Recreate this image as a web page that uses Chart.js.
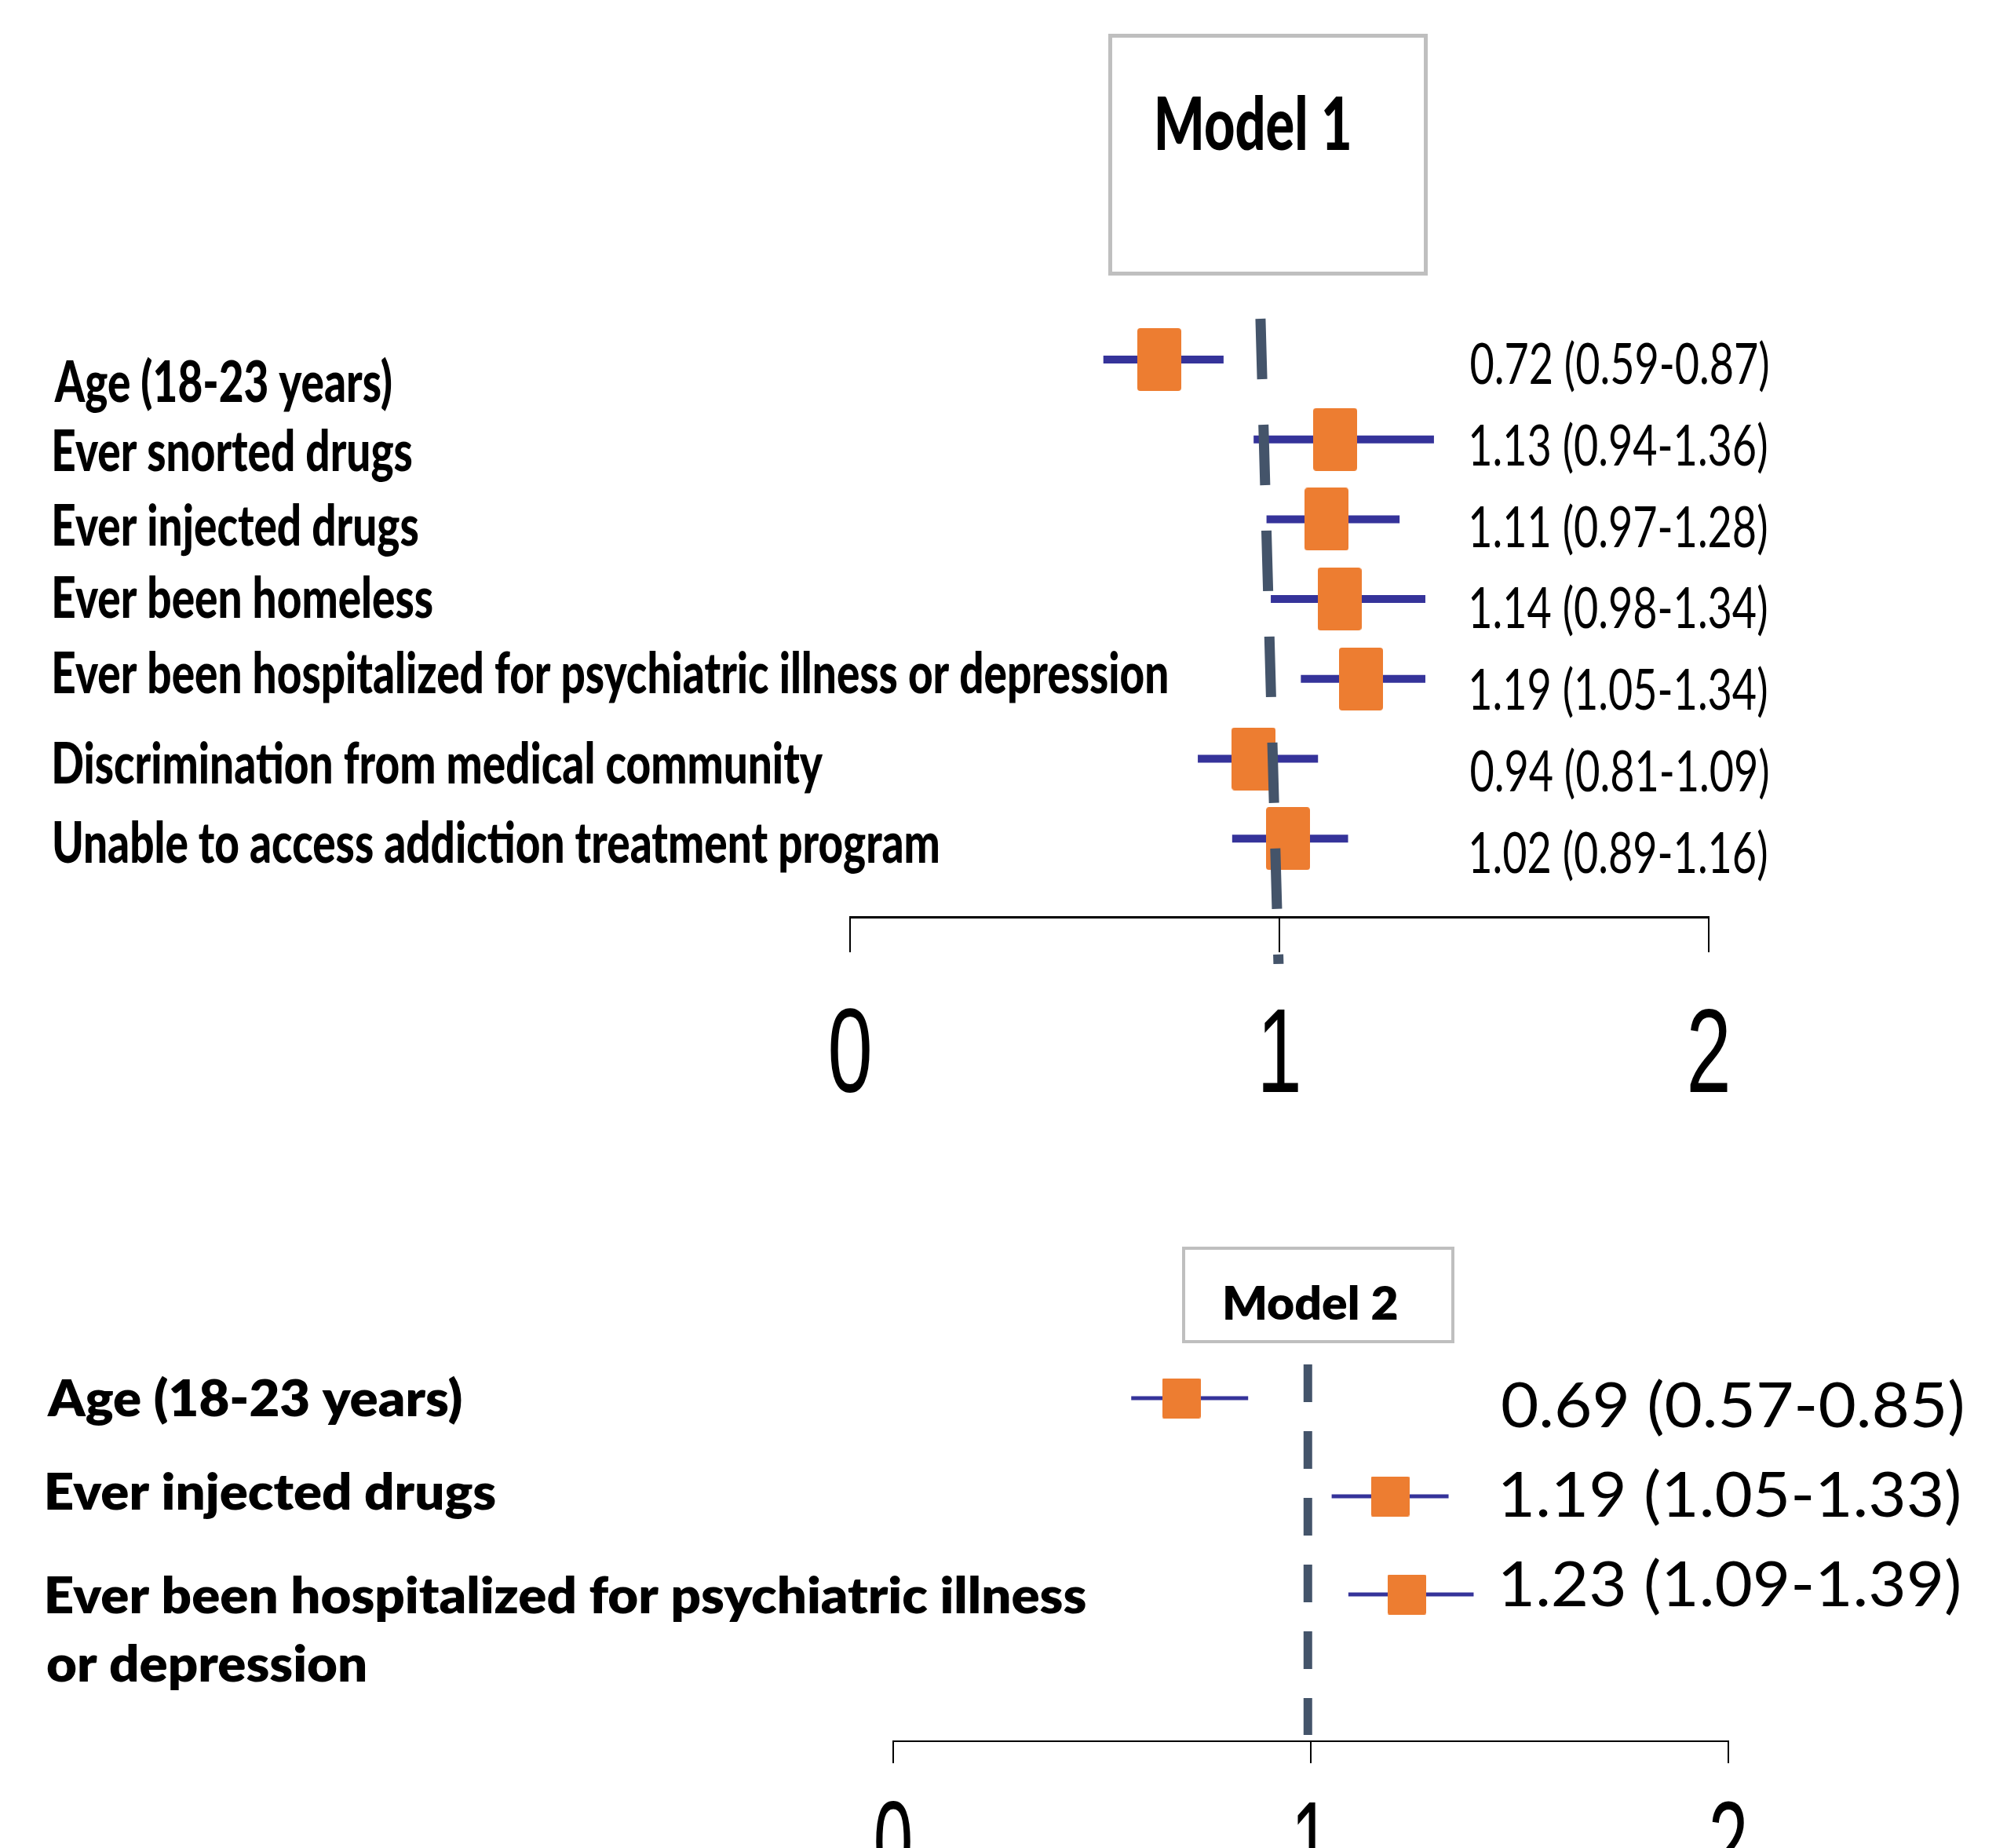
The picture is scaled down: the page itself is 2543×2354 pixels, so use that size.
<!DOCTYPE html>
<html>
<head>
<meta charset="utf-8">
<script src="https://cdn.jsdelivr.net/npm/chart.js@4.4.0/dist/chart.umd.min.js"></script>
<style>
  html, body { margin: 0; padding: 0; background: #ffffff; width: 2543px; height: 2354px; overflow: hidden; }
  canvas { position: absolute; left: 0; display: block; }
  #model1 { top: 0; }
  #model2 { top: 1450px; }
</style>
</head>
<body>
<canvas id="model1" width="2543" height="1450" style="width:2543px;height:1450px"></canvas>
<canvas id="model2" width="2543" height="904" style="width:2543px;height:904px"></canvas>
<script>
// ---------------- DATA ----------------
const model1Title = 'Model 1';
const model1Labels = [
  'Age (18-23 years)',
  'Ever snorted drugs',
  'Ever injected drugs',
  'Ever been homeless',
  'Ever been hospitalized for psychiatric illness or depression',
  'Discrimination from medical community',
  'Unable to access addiction treatment program'
];
const model1OR    = [0.72, 1.13, 1.11, 1.14, 1.19, 0.94, 1.02];
const model1Lower = [0.59, 0.94, 0.97, 0.98, 1.05, 0.81, 0.89];
const model1Upper = [0.87, 1.36, 1.28, 1.34, 1.34, 1.09, 1.16];

const model2Title = 'Model 2';
const model2Labels = [
  'Age (18-23 years)',
  'Ever injected drugs',
  ['Ever been hospitalized for psychiatric illness', 'or depression']
];
const model2OR    = [0.69, 1.19, 1.23];
const model2Lower = [0.57, 1.05, 1.09];
const model2Upper = [0.85, 1.33, 1.39];

const xTickValues = [0, 1, 2];
// reference (null) line at OR = 1, as drawn in the figure (model 1 is slightly tilted)
const model1RefX = [0.956, 0.998];
const model2RefX = [0.993, 0.993];

// ---------------- STYLE ----------------
const CI_COLOR = '#35339A';
const MARK_COLOR = '#ED7D31';
const REF_COLOR = '#44546A';
const BOX_COLOR = '#BFBFBF';
// small per-row vertical nudges (px) of the label text, as typeset in the figure
const model1LabelNudge = [1, -6.5, -7, -10.5, -10, 10, 15];
const model2LabelNudge = [0, -6.5, 0];

function fmt(v) { return v.toFixed(2); }
function valueText(or, lo, hi) { return fmt(or) + ' (' + fmt(lo) + '-' + fmt(hi) + ')'; }

function rectMarker(w, h, r) {
  const c = document.createElement('canvas');
  c.width = w; c.height = h;
  const g = c.getContext('2d');
  g.fillStyle = MARK_COLOR;
  g.beginPath();
  g.moveTo(r, 0); g.lineTo(w - r, 0); g.quadraticCurveTo(w, 0, w, r);
  g.lineTo(w, h - r); g.quadraticCurveTo(w, h, w - r, h);
  g.lineTo(r, h); g.quadraticCurveTo(0, h, 0, h - r);
  g.lineTo(0, r); g.quadraticCurveTo(0, 0, r, 0);
  g.closePath(); g.fill();
  return c;
}

function prepStyle(ctx, st) {
  ctx.save();
  ctx.font = st.weight + ' 100px "' + st.family + '"';
  const pm = ctx.measureText(st.probe);
  const h = pm.actualBoundingBoxAscent + (st.withDescent ? pm.actualBoundingBoxDescent : 0);
  const size = 100 * st.height / h;
  const font = st.weight + ' ' + size.toFixed(2) + 'px "' + st.family + '"';
  ctx.font = font;
  const rm = ctx.measureText(st.ref);
  const ink = rm.actualBoundingBoxLeft + rm.actualBoundingBoxRight;
  ctx.restore();
  return { font: font, sx: st.width / ink };
}

function drawText(ctx, text, ps, x, y, align) {
  ctx.save();
  ctx.font = ps.font;
  ctx.fillStyle = '#000000';
  ctx.textBaseline = 'alphabetic';
  ctx.textAlign = align || 'left';
  const m = ctx.measureText(text);
  let ox = x;
  if (!align || align === 'left') ox = x + m.actualBoundingBoxLeft * ps.sx;
  ctx.translate(ox, y);
  ctx.scale(ps.sx, 1);
  ctx.fillText(text, 0, 0);
  ctx.restore();
}

function buildChart(id, c) {
  const ciDatasets = c.labels.map((_, i) => ({
    label: 'CI ' + (i + 1),
    data: [{ x: c.lower[i], y: i }, { x: c.upper[i], y: i }],
    showLine: true,
    borderColor: CI_COLOR,
    backgroundColor: CI_COLOR,
    borderWidth: c.ciWidth,
    borderCapStyle: 'butt',
    pointRadius: 0,
    pointHoverRadius: 0,
    order: 3,
    yAxisID: 'y'
  }));
  const markerDataset = {
    label: 'Odds ratio',
    data: c.or.map((v, i) => ({ x: v, y: i })),
    pointStyle: rectMarker(c.markW, c.markH, c.markR),
    pointRadius: 10,
    order: 2,
    yAxisID: 'y'
  };
  const refDataset = {
    label: 'Reference',
    data: [{ x: c.refX[0], y: c.refY[0] }, { x: c.refX[1], y: c.refY[1] }],
    showLine: true,
    borderColor: REF_COLOR,
    borderWidth: c.refWidth,
    borderDash: c.refDash,
    borderCapStyle: 'butt',
    pointRadius: 0,
    order: 1,
    clip: false,
    yAxisID: 'y'
  };

  const textPlugin = {
    id: 'forestText_' + id,
    afterDraw(chart) {
      const ctx = chart.ctx;
      // title box
      ctx.save();
      ctx.strokeStyle = BOX_COLOR;
      ctx.lineWidth = c.box.lw;
      ctx.strokeRect(c.box.x, c.box.y, c.box.w, c.box.h);
      ctx.restore();
      const tS = prepStyle(ctx, c.titleStyle);
      drawText(ctx, c.title, tS, c.titleX, c.titleY);

      // category labels
      const lS = prepStyle(ctx, c.labelStyle);
      const yl = chart.scales.yLab;
      c.labels.forEach((lab, i) => {
        const lines = Array.isArray(lab) ? lab : [lab];
        const base = yl.getPixelForValue(i) + (c.labelNudge[i] || 0);
        lines.forEach((ln, k) => drawText(ctx, ln, lS, c.labelX, base + k * c.labelLineH));
      });

      // values
      const vS = prepStyle(ctx, c.valueStyle);
      const yv = chart.scales.yVal;
      c.or.forEach((v, i) => {
        drawText(ctx, valueText(v, c.lower[i], c.upper[i]), vS, c.valueX, yv.getPixelForValue(i));
      });

      // x tick labels
      const kS = prepStyle(ctx, c.tickStyle);
      const xs = chart.scales.x;
      xTickValues.forEach(v => {
        drawText(ctx, String(v), kS, xs.getPixelForValue(v), xs.top + c.tickLabelOffset, 'center');
      });
    }
  };

  return new Chart(document.getElementById(id), {
    type: 'scatter',
    data: { datasets: [...ciDatasets, markerDataset, refDataset] },
    options: {
      responsive: false,
      maintainAspectRatio: false,
      devicePixelRatio: 1,
      animation: false,
      events: [],
      layout: { padding: { left: c.padLeft, right: c.padRight, top: c.padTop, bottom: 0 } },
      plugins: { legend: { display: false }, tooltip: { enabled: false }, title: { display: false } },
      scales: {
        x: {
          type: 'linear', position: 'bottom', min: 0, max: 2,
          afterBuildTicks(scale) { scale.ticks = xTickValues.map(v => ({ value: v })); },
          afterFit(scale) { scale.height = c.xAxisH; },
          ticks: { display: false },
          grid: { display: true, drawOnChartArea: false, drawTicks: true, tickLength: c.tickLen,
                  color: '#000000', tickColor: '#000000', lineWidth: 2, tickWidth: 2 },
          border: { display: true, color: '#000000', width: c.axisW }
        },
        y:    { type: 'linear', axis: 'y', position: 'left', display: false, reverse: true, min: c.yRange[0], max: c.yRange[1] },
        yLab: { type: 'linear', axis: 'y', position: 'left', display: false, reverse: true, min: c.labRange[0], max: c.labRange[1] },
        yVal: { type: 'linear', axis: 'y', position: 'left', display: false, reverse: true, min: c.valRange[0], max: c.valRange[1] }
      }
    },
    plugins: [textPlugin]
  });
}

buildChart('model1', {
  title: model1Title, labels: model1Labels, or: model1OR, lower: model1Lower, upper: model1Upper,
  refX: model1RefX, refY: [-0.511, 7.57],
  padLeft: 1083, padRight: 366, padTop: 380, xAxisH: 282,
  yRange: [-0.767, 6.981], labRange: [-1.3717, 6.8796], valRange: [-1.0501, 6.5414],
  labelNudge: model1LabelNudge,
  ciWidth: 10, markW: 56, markH: 80, markR: 4,
  refWidth: 13, refDash: [77, 58],
  tickLen: 45, axisW: 3, tickLabelOffset: 223,
  box: { x: 1414.5, y: 45.5, w: 402, h: 303, lw: 5 },
  titleX: 1475, titleY: 191,
  labelX: 69, labelLineH: 0,
  valueX: 1874,
  titleStyle: { weight: '900', family: 'Lato', probe: 'H', height: 68, ref: 'Model 1', width: 244 },
  labelStyle: { weight: '900', family: 'Lato', probe: 'H', height: 53, ref: 'Ever been hospitalized for psychiatric illness or depression', width: 1418 },
  valueStyle: { weight: 'normal', family: 'Lato', probe: 'H', height: 53, ref: '0.72 (0.59-0.87)', width: 379 },
  tickStyle:  { weight: 'normal', family: 'Liberation Sans', probe: '0', withDescent: true, height: 108, ref: '0', width: 50 }
});

buildChart('model2', {
  title: model2Title, labels: model2Labels, or: model2OR, lower: model2Lower, upper: model2Upper,
  refX: model2RefX, refY: [-0.344, 3.432],
  padLeft: 1138, padRight: 341, padTop: 200, xAxisH: 136,
  yRange: [-1.048, 3.496], labRange: [-1.2271, 3.2988], valRange: [-1.4676, 3.5061],
  labelNudge: model2LabelNudge,
  ciWidth: 5, markW: 49, markH: 51, markR: 2,
  refWidth: 11, refDash: [48, 37],
  tickLen: 28, axisW: 2, tickLabelOffset: 179,
  box: { x: 1508, y: 140, w: 343, h: 119, lw: 4 },
  titleX: 1561, titleY: 231,
  labelX: 60, labelLineH: 87,
  valueX: 1914,
  titleStyle: { weight: '800', family: 'Lato', probe: 'H', height: 44, ref: 'Model 2', width: 219 },
  labelStyle: { weight: '800', family: 'Lato', probe: 'H', height: 47, ref: 'Ever been hospitalized for psychiatric illness', width: 1323 },
  valueStyle: { weight: 'normal', family: 'Lato', probe: 'H', height: 58.6, ref: '0.69 (0.57-0.85)', width: 586 },
  tickStyle:  { weight: 'normal', family: 'Liberation Sans', probe: '0', withDescent: true, height: 104, ref: '0', width: 44 }
});
</script>
</body>
</html>
